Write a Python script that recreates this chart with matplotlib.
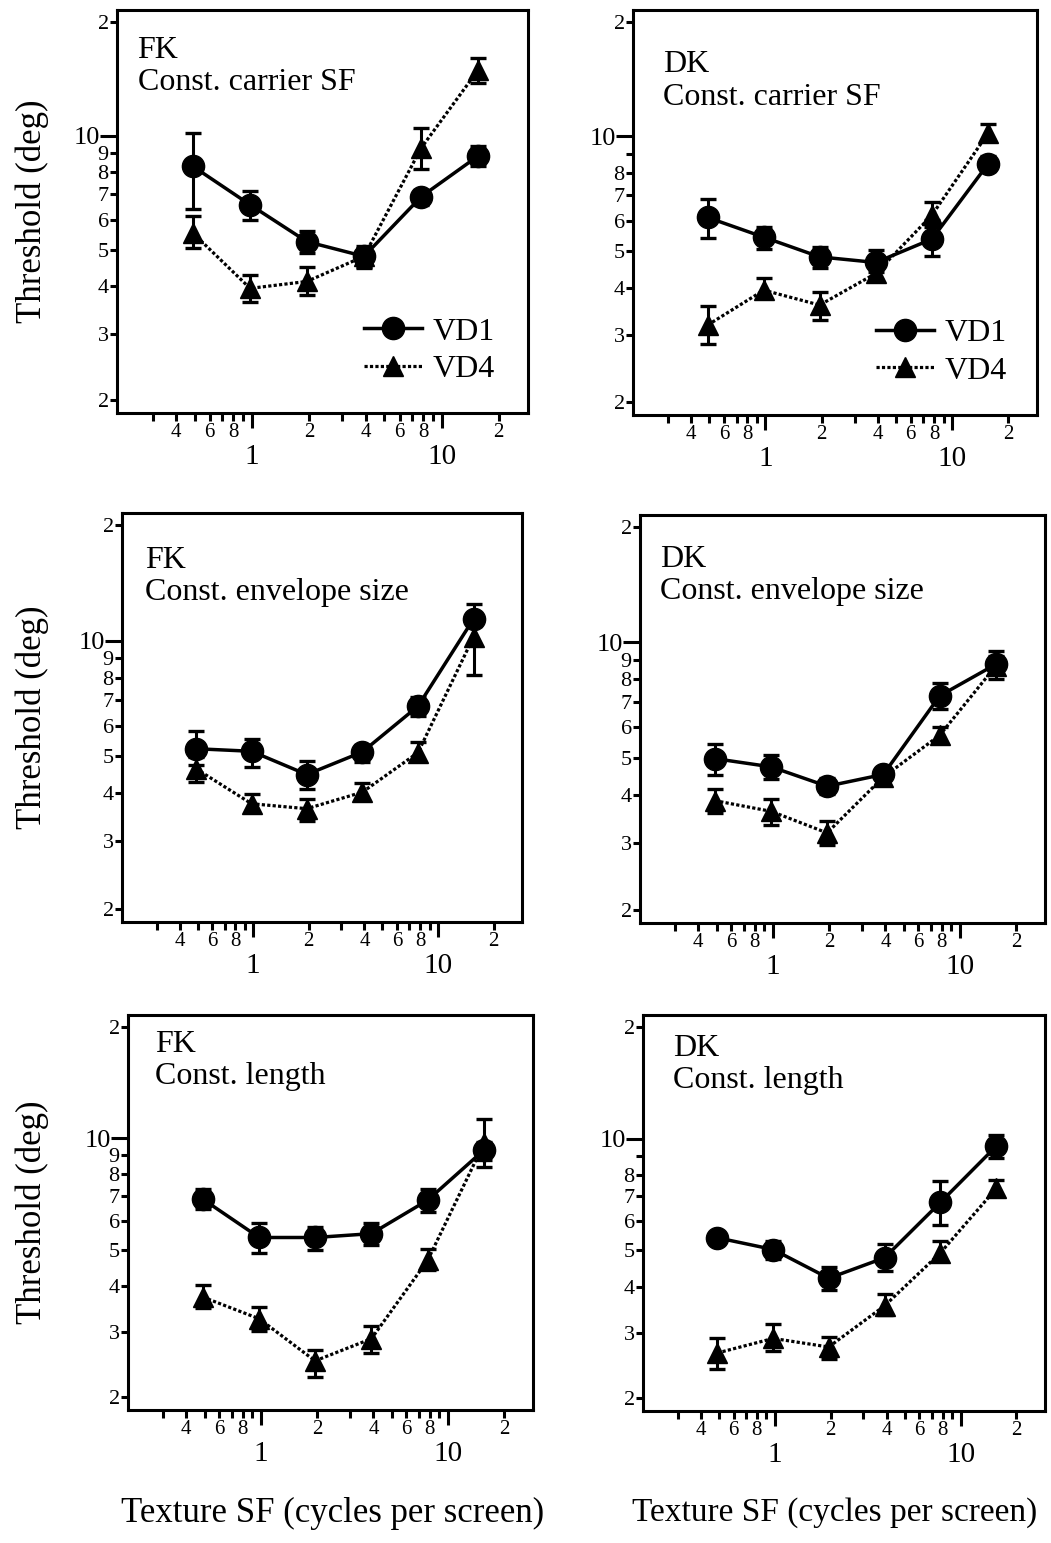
import matplotlib.pyplot as plt
import numpy as np
from matplotlib.ticker import FixedLocator, FixedFormatter
from matplotlib.lines import Line2D

plt.rcParams['font.family'] = ['Liberation Serif', 'DejaVu Serif']

# texture spatial frequency (cycles per screen)
sf = [0.49, 0.98, 1.95, 3.9, 7.8, 15.6]

# FK, constant carrier SF
fk_car_vd1 = [8.3, 6.57, 5.25, 4.8, 6.9, 8.85]
fk_car_vd1_lo = [6.4, 6.0, 4.9, 4.47, 6.57, 8.3]
fk_car_vd1_hi = [10.2, 7.13, 5.6, 5.1, 7.2, 9.37]
fk_car_vd4 = [5.53, 3.95, 4.12, 4.8, 9.28, 14.95]
fk_car_vd4_lo = [5.05, 3.64, 3.8, 4.5, 8.16, 13.8]
fk_car_vd4_hi = [6.14, 4.29, 4.51, 5.05, 10.5, 16.06]

# DK, constant carrier SF
dk_car_vd1 = [6.12, 5.43, 4.82, 4.66, 5.37, 8.47]
dk_car_vd1_lo = [5.39, 5.07, 4.5, 4.4, 4.84, 8.09]
dk_car_vd1_hi = [6.85, 5.79, 5.13, 5.02, 6.03, 8.89]
dk_car_vd4 = [3.19, 3.94, 3.6, 4.36, 6.21, 10.2]
dk_car_vd4_lo = [2.85, 3.75, 3.28, 4.18, 5.79, 9.8]
dk_car_vd4_hi = [3.57, 4.23, 3.9, 4.55, 6.74, 10.8]

# FK, constant envelope size
fk_env_vd1 = [5.23, 5.15, 4.48, 5.13, 6.75, 11.4]
fk_env_vd1_lo = [4.73, 4.69, 4.11, 4.83, 6.36, 10.9]
fk_env_vd1_hi = [5.82, 5.56, 4.85, 5.34, 7.14, 12.45]
fk_env_vd4 = [4.64, 3.76, 3.65, 4.03, 5.11, 10.24]
fk_env_vd4_lo = [4.28, 3.58, 3.4, 3.84, 4.85, 8.14]
fk_env_vd4_hi = [4.98, 3.99, 3.88, 4.27, 5.45, 11.0]

# DK, constant envelope size
dk_env_vd1 = [4.97, 4.73, 4.21, 4.52, 7.25, 8.77]
dk_env_vd1_lo = [4.5, 4.4, 4.01, 4.32, 6.69, 8.43]
dk_env_vd1_hi = [5.42, 5.08, 4.43, 4.67, 7.81, 9.47]
dk_env_vd4 = [3.86, 3.62, 3.18, 4.45, 5.72, 8.69]
dk_env_vd4_lo = [3.59, 3.34, 2.96, 4.3, 5.47, 8.02]
dk_env_vd4_hi = [4.13, 3.89, 3.42, 4.6, 6.01, 9.22]

# FK, constant length
fk_len_vd1 = [6.85, 5.4, 5.4, 5.53, 6.81, 9.3]
fk_len_vd1_lo = [6.43, 4.9, 5.01, 5.14, 6.33, 8.74]
fk_len_vd1_hi = [7.28, 5.91, 5.77, 5.92, 7.28, 9.79]
fk_len_vd4 = [3.73, 3.26, 2.51, 2.88, 4.69, 9.69]
fk_len_vd4_lo = [3.49, 3.02, 2.27, 2.63, 4.42, 8.38]
fk_len_vd4_hi = [4.01, 3.5, 2.69, 3.11, 5.02, 11.3]

# DK, constant length
dk_len_vd1 = [5.41, 5.03, 4.21, 4.78, 6.74, 9.55]
dk_len_vd1_lo = [5.41, 4.73, 3.92, 4.4, 5.84, 8.86]
dk_len_vd1_hi = [5.41, 5.3, 4.51, 5.19, 7.68, 10.2]
dk_len_vd4 = [2.65, 2.9, 2.75, 3.55, 4.93, 7.35]
dk_len_vd4_lo = [2.4, 2.69, 2.56, 3.35, 4.68, 7.02]
dk_len_vd4_hi = [2.9, 3.17, 2.92, 3.82, 5.3, 7.74]

titles = ["FK\nConst. carrier SF", "DK\nConst. carrier SF",
          "FK\nConst. envelope size", "DK\nConst. envelope size",
          "FK\nConst. length", "DK\nConst. length"]

x_minor = [0.3, 0.4, 0.5, 0.6, 0.7, 0.8, 0.9, 2, 3, 4, 5, 6, 7, 8, 9, 20]
x_minor_labels = ['', '4', '', '6', '', '8', '', '2', '', '4', '', '6', '', '8', '', '2']
x_major = [1, 10]
x_major_labels = ['1', '10']
y_ticks = [2, 3, 4, 5, 6, 7, 8, 9, 20]
y_tick_labels = ['2', '3', '4', '5', '6', '7', '8', '9', '2']

W, H = 1051, 1543
# axes boxes in pixels: left, top, right, bottom
boxes = [(117, 10, 528, 413), (633, 10, 1037, 415),
         (122, 513, 522, 922), (640, 515, 1045, 923),
         (128, 1015, 533, 1410), (643, 1015, 1045, 1411)]
text_pos = [(0.05, 0.935), (0.074, 0.9), (0.058, 0.92),
            (0.05, 0.927), (0.066, 0.962), (0.075, 0.952)]

series = [
    (fk_car_vd1, fk_car_vd1_lo, fk_car_vd1_hi, fk_car_vd4, fk_car_vd4_lo, fk_car_vd4_hi),
    (dk_car_vd1, dk_car_vd1_lo, dk_car_vd1_hi, dk_car_vd4, dk_car_vd4_lo, dk_car_vd4_hi),
    (fk_env_vd1, fk_env_vd1_lo, fk_env_vd1_hi, fk_env_vd4, fk_env_vd4_lo, fk_env_vd4_hi),
    (dk_env_vd1, dk_env_vd1_lo, dk_env_vd1_hi, dk_env_vd4, dk_env_vd4_lo, dk_env_vd4_hi),
    (fk_len_vd1, fk_len_vd1_lo, fk_len_vd1_hi, fk_len_vd4, fk_len_vd4_lo, fk_len_vd4_hi),
    (dk_len_vd1, dk_len_vd1_lo, dk_len_vd1_hi, dk_len_vd4, dk_len_vd4_lo, dk_len_vd4_hi),
]
show_nine = [True, False, True, True, True, False]

dots = (0, (1, 0.7))

fig = plt.figure(figsize=(W / 100, H / 100), dpi=100)

for i, (v1, l1, h1, v4, l4, h4) in enumerate(series):
    l, t, r, b = boxes[i]
    ax = fig.add_axes([l / W, 1 - b / H, (r - l) / W, (b - t) / H])
    ax.set_xscale('log')
    ax.set_yscale('log')

    v1, l1, h1 = np.array(v1), np.array(l1), np.array(h1)
    v4, l4, h4 = np.array(v4), np.array(l4), np.array(h4)
    ax.errorbar(sf, v4, yerr=[v4 - l4, h4 - v4], color='k', lw=2.3,
                linestyle=dots, marker='^', ms=15,
                capsize=6, elinewidth=2.2, capthick=2.4)
    ax.errorbar(sf, v1, yerr=[v1 - l1, h1 - v1], color='k', lw=2.5,
                linestyle='-', marker='o', ms=16,
                capsize=6, elinewidth=2.2, capthick=2.4)

    ax.set_xlim(0.195, 28.5)
    ax.set_ylim(1.85, 21.5)

    for s in ax.spines.values():
        s.set_linewidth(2.2)

    ax.xaxis.set_major_locator(FixedLocator(x_major))
    ax.xaxis.set_major_formatter(FixedFormatter(x_major_labels))
    ax.xaxis.set_minor_locator(FixedLocator(x_minor))
    ax.xaxis.set_minor_formatter(FixedFormatter(x_minor_labels))
    ax.tick_params(axis='x', which='major', length=11, width=2.2,
                   labelsize=21, pad=11)
    ax.tick_params(axis='x', which='minor', length=5.5, width=2.2,
                   labelsize=15, pad=2)

    ylabels = list(y_tick_labels)
    if not show_nine[i]:
        ylabels[7] = ''
    ax.yaxis.set_major_locator(FixedLocator([10]))
    ax.yaxis.set_major_formatter(FixedFormatter(['10']))
    ax.yaxis.set_minor_locator(FixedLocator(y_ticks))
    ax.yaxis.set_minor_formatter(FixedFormatter(ylabels))
    ax.tick_params(axis='y', which='major', length=12, width=2.2,
                   labelsize=19, pad=0)
    ax.tick_params(axis='y', which='minor', length=5, width=2.2,
                   labelsize=16, pad=1)

    ax.text(text_pos[i][0], text_pos[i][1], titles[i], transform=ax.transAxes,
            fontsize=23, va='top', ha='left', linespacing=1.15)

    if i < 2:
        h_vd1 = Line2D([], [], color='k', lw=2.5, marker='o', ms=16)
        h_vd4 = Line2D([], [], color='k', lw=2.3, linestyle=dots,
                       marker='^', ms=15)
        ax.legend([h_vd1, h_vd4], ['VD1', 'VD4'], loc='center left',
                  bbox_to_anchor=(0.57, 0.155), frameon=False, fontsize=23,
                  handlelength=1.8, handletextpad=0.35, labelspacing=0.25,
                  borderaxespad=0)

# y labels
for i in (0, 2, 4):
    l, t, r, b = boxes[i]
    fig.text(32 / W, 1 - (t + b) / 2 / H, "Threshold (deg)", rotation=90,
             ha='center', va='center', fontsize=25)

# x labels
fig.text(333 / W, 1 - 1513 / H, "Texture SF (cycles per screen)",
         ha='center', va='center', fontsize=25)
fig.text(632 / W, 1 - 1513 / H, "Texture SF (cycles per screen)",
         ha='left', va='center', fontsize=24)

fig.savefig('out.png', dpi=100)
